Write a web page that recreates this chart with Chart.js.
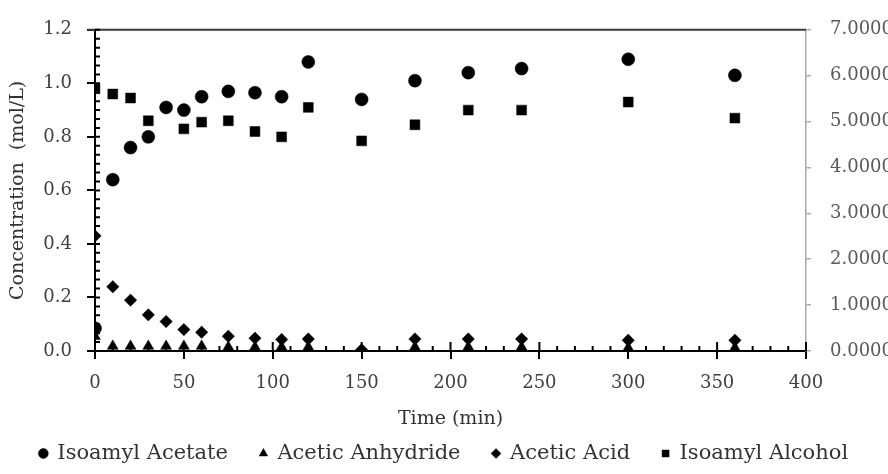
<!DOCTYPE html>
<html>
<head>
<meta charset="utf-8">
<script src="https://cdn.jsdelivr.net/npm/chart.js@4.4.1/dist/chart.umd.min.js"></script>
<style>
  html, body { margin: 0; padding: 0; background: #fff; }
  #wrap { width: 888px; height: 474px; }
</style>
</head>
<body>
<div id="wrap"><canvas id="chart"></canvas></div>
<script>
// sampling times (min)
const times = [0, 10, 20, 30, 40, 50, 60, 75, 90, 105, 120, 150, 180, 210, 240, 300, 360];

// concentrations (mol/L), null = no sample
const isoamylAcetate  = [0.085, 0.64, 0.76, 0.80, 0.91, 0.90, 0.95, 0.97, 0.965, 0.95, 1.08, 0.94, 1.01, 1.04, 1.055, 1.09, 1.03];
const aceticAnhydride = [0.055, 0.018, 0.018, 0.018, 0.018, 0.018, 0.018, 0.015, 0.015, 0.015, 0.015, 0.0, 0.015, 0.015, 0.015, 0.012, 0.012];
const aceticAcid      = [0.43, 0.24, 0.19, 0.135, 0.11, 0.08, 0.07, 0.055, 0.048, 0.043, 0.045, 0.005, 0.045, 0.045, 0.045, 0.04, 0.04];
const isoamylAlcohol  = [0.98, 0.96, 0.945, 0.86, null, 0.83, 0.855, 0.86, 0.82, 0.80, 0.91, 0.785, 0.845, 0.90, 0.90, 0.93, 0.87];

const seriesNames = ['Isoamyl Acetate', 'Acetic Anhydride', 'Acetic Acid', 'Isoamyl Alcohol'];

const leftTicks = [0, 0.2, 0.4, 0.6, 0.8, 1.0, 1.2];
const rightTicks = [0, 1, 2, 3, 4, 5, 6, 7];
const xTicks = [0, 50, 100, 150, 200, 250, 300, 350, 400];

const FONT = 'DejaVu Serif';

function pts(vals) {
    return times.map((t, i) => ({x: t, y: vals[i]})).filter(p => p.y !== null);
}

// frame line on top plus the inner / minor tick marks
const axisMarks = {
    id: 'axisMarks',
    beforeDatasetsDraw(chart) {
        const ctx = chart.ctx;
        const a = chart.chartArea;
        const x = chart.scales.x, y = chart.scales.y;
        ctx.save();
        ctx.strokeStyle = '#3a3a3a';
        ctx.lineWidth = 2;
        ctx.beginPath();
        ctx.moveTo(a.left - 8, a.top);
        ctx.lineTo(a.right, a.top);
        ctx.stroke();

        ctx.strokeStyle = '#000';
        ctx.lineWidth = 2;
        ctx.beginPath();
        for (let i = 0; i <= 36; i++) {
            const py = y.getPixelForValue(i * 0.2 / 6);
            ctx.moveTo(a.left, py);
            ctx.lineTo(a.left + 5, py);
        }
        for (let i = 0; i <= 40; i++) {
            const px = x.getPixelForValue(i * 10);
            ctx.moveTo(px, a.bottom);
            ctx.lineTo(px, a.bottom - (i % 5 === 0 ? 9 : 5));
        }
        ctx.stroke();
        ctx.restore();
    }
};

const chart = new Chart('chart', {
    type: 'scatter',
    data: {
        datasets: [
            {label: seriesNames[0], data: pts(isoamylAcetate), pointStyle: 'circle', pointRadius: 6.5},
            {label: seriesNames[1], data: pts(aceticAnhydride), pointStyle: 'triangle', pointRadius: 6.3},
            {label: seriesNames[2], data: pts(aceticAcid), pointStyle: 'rectRot', pointRadius: 6.2},
            {label: seriesNames[3], data: pts(isoamylAlcohol), pointStyle: 'rect', pointRadius: 7}
        ].map(d => Object.assign(d, {
            backgroundColor: '#000',
            borderColor: '#000',
            pointBorderWidth: 0.5,
            pointHoverRadius: d.pointRadius
        }))
    },
    options: {
        responsive: true,
        maintainAspectRatio: false,
        animation: false,
        layout: {padding: {top: 26, left: 0, right: 0, bottom: 0}},
        plugins: {
            tooltip: {enabled: false},
            legend: {
                position: 'bottom',
                labels: {
                    usePointStyle: true,
                    boxWidth: 7,
                    boxHeight: 7,
                    padding: 32,
                    color: '#333',
                    font: {family: FONT, size: 21}
                }
            }
        },
        scales: {
            x: {
                type: 'linear',
                min: 0,
                max: 400,
                afterBuildTicks: s => { s.ticks = xTicks.map(v => ({value: v})); },
                afterFit: s => { s.height = 60; },
                border: {display: true, color: '#000', width: 2},
                grid: {drawOnChartArea: false, drawTicks: true, tickLength: 8, color: '#000', lineWidth: 2},
                ticks: {color: '#404040', padding: 14, font: {family: FONT, size: 18}},
                title: {display: true, text: 'Time (min)', color: '#333', padding: {top: 0, bottom: -19}, font: {family: FONT, size: 19}}
            },
            y: {
                type: 'linear',
                position: 'left',
                min: 0,
                max: 1.2,
                afterBuildTicks: s => { s.ticks = leftTicks.map(v => ({value: v})); },
                afterFit: s => { s.width = 95; },
                border: {display: true, color: '#000', width: 2},
                grid: {drawOnChartArea: false, drawTicks: true, tickLength: 8, color: '#000', lineWidth: 2},
                ticks: {color: '#404040', padding: 15, font: {family: FONT, size: 18}, callback: v => v.toFixed(1)},
                title: {display: true, text: 'Concentration  (mol/L)', color: '#333', padding: {top: 7, bottom: 0}, font: {family: FONT, size: 19}}
            },
            y2: {
                type: 'linear',
                position: 'right',
                min: 0,
                max: 7,
                afterBuildTicks: s => { s.ticks = rightTicks.map(v => ({value: v})); },
                afterFit: s => { s.width = 82; },
                border: {display: true, color: '#aaa', width: 1.5},
                grid: {drawOnChartArea: false, drawTicks: true, tickLength: 5, color: '#aaa', lineWidth: 1.5},
                ticks: {color: '#5a5a5a', padding: 19, font: {family: FONT, size: 18}, callback: v => v.toFixed(4)}
            }
        }
    },
    plugins: [axisMarks]
});
</script>
</body>
</html>
